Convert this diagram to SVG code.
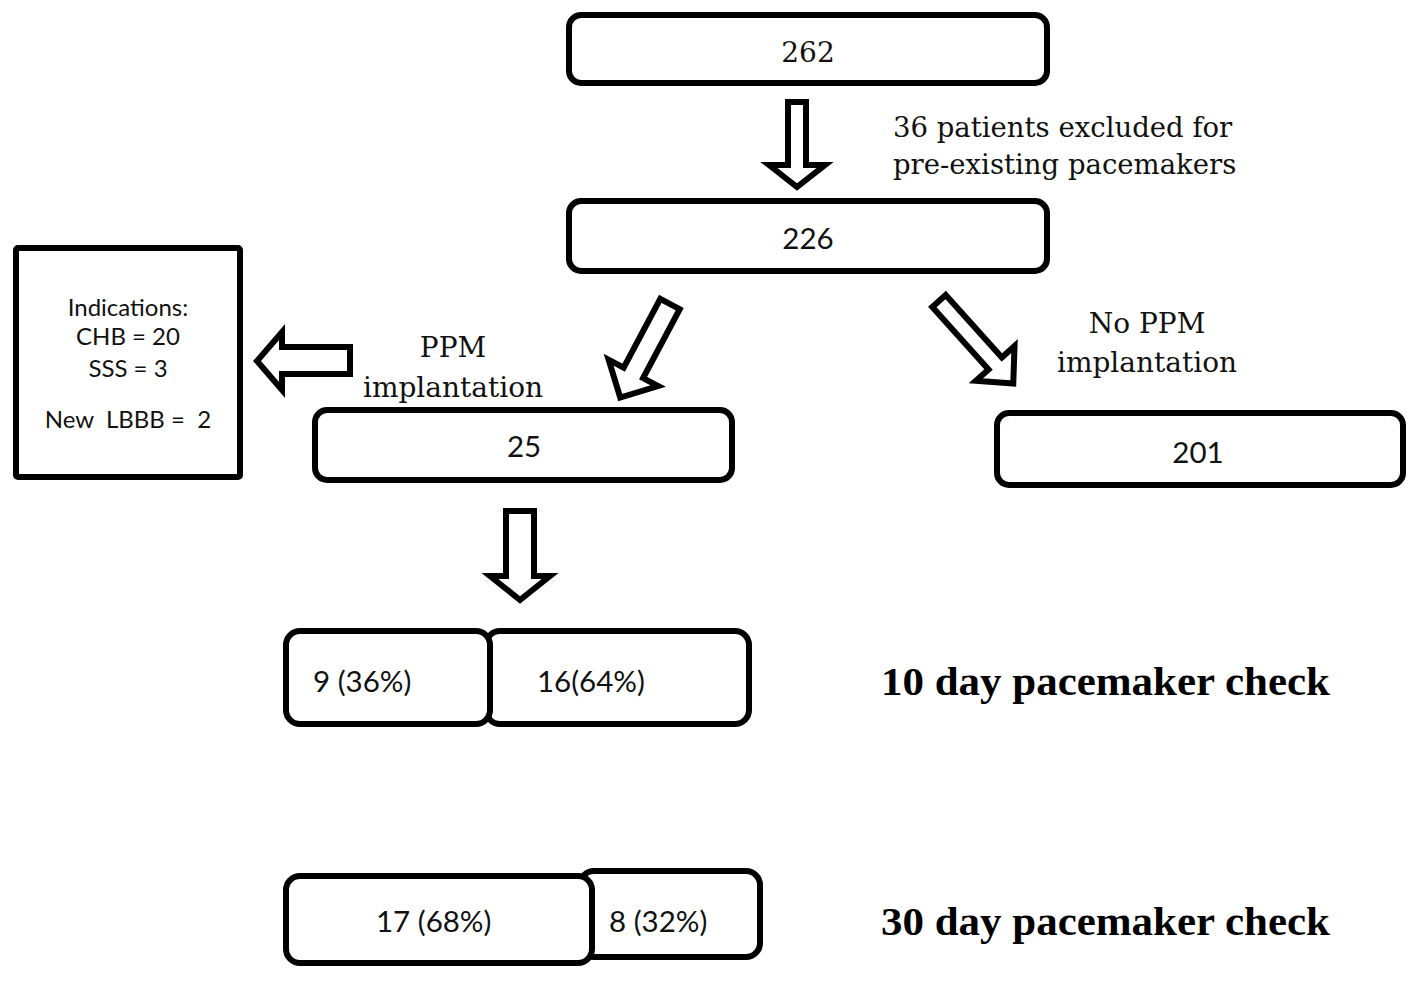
<svg xmlns="http://www.w3.org/2000/svg" width="1417" height="982" viewBox="0 0 1417 982">
<style>
.box{fill:#fff;stroke:#000;stroke-width:6}
.arr{fill:#fff;stroke:#000;stroke-width:6;stroke-linejoin:miter}
.serif{font-family:"DejaVu Serif","Liberation Serif",serif;fill:#111}
.sans{font-family:Lato,"Liberation Sans",sans-serif;fill:#111}
.bold{font-family:"Liberation Serif","DejaVu Serif",serif;font-weight:bold;fill:#000;font-size:40px}
</style>
<rect width="1417" height="982" fill="#fff"/>
<g id="connectors">
<path class="arr" d="M788,102 H806 V165 H825 L797,187 L769,165 H788 Z"/>
<path class="arr" d="M350,347 H282 V332 L257,361 L282,390 V374 H350 Z"/>
<path class="arr" transform="translate(670,304) rotate(28)" d="M-11,0 H11 V78 H28 L0,106 L-28,78 H-11 Z"/>
<path class="arr" transform="translate(939,301) rotate(-42)" d="M-9,0 H9 V84 H26 L0,111 L-26,84 H-9 Z"/>
<path class="arr" d="M506,511 H534 V576 H550 L520,600 L490,576 H506 Z"/>
</g>
<g id="n262">
<rect class="box" x="569" y="15" width="478" height="68" rx="12"/>
<text class="serif" x="808" y="62" font-size="28" text-anchor="middle">262</text>
</g>
<g id="excluded-label">
<text class="serif" font-size="27.5"><tspan x="893" y="137">36 patients excluded for</tspan><tspan x="893" y="174">pre-existing pacemakers</tspan></text>
</g>
<g id="n226">
<rect class="box" x="569" y="201" width="478" height="70" rx="12"/>
<text class="sans" x="808" y="249" font-size="29.5" text-anchor="middle">226</text>
</g>
<g id="indications">
<rect class="box" x="16" y="248" width="224" height="229" rx="2"/>
<text class="sans" font-size="24" text-anchor="middle" xml:space="preserve" style="white-space:pre"><tspan x="128" y="316">Indications:</tspan><tspan x="128" y="345">CHB = 20</tspan><tspan x="128" y="377">SSS = 3</tspan><tspan x="128" y="428">New  LBBB =  2</tspan></text>
</g>
<g id="ppm-label">
<text class="serif" font-size="28" text-anchor="middle"><tspan x="453" y="357">PPM</tspan><tspan x="453" y="397">implantation</tspan></text>
</g>
<g id="n25">
<rect class="box" x="315" y="410" width="417" height="70" rx="12"/>
<text class="sans" x="524" y="457" font-size="29.5" text-anchor="middle">25</text>
</g>
<g id="noppm-label">
<text class="serif" font-size="28" text-anchor="middle"><tspan x="1147" y="333">No PPM</tspan><tspan x="1147" y="372">implantation</tspan></text>
</g>
<g id="n201">
<rect class="box" x="997" y="413" width="406" height="72" rx="12"/>
<text class="sans" x="1198" y="463" font-size="29.5" text-anchor="middle">201</text>
</g>
<g id="day10">
<rect class="box" x="486" y="631" width="263" height="93" rx="14"/>
<rect class="box" x="286" y="631" width="204" height="93" rx="14"/>
<text class="sans" x="313" y="692" font-size="29.5">9 (36%)</text>
<text class="sans" x="537" y="692" font-size="29.5">16(64%)</text>
<text class="bold" x="881" y="695" textLength="449" lengthAdjust="spacingAndGlyphs">10 day pacemaker check</text>
</g>
<g id="day30">
<rect class="box" x="580" y="871" width="180" height="86" rx="14"/>
<rect class="box" x="286" y="876" width="306" height="87" rx="14"/>
<text class="sans" x="376" y="932" font-size="29.5">17 (68%)</text>
<text class="sans" x="609" y="932" font-size="29.5">8 (32%)</text>
<text class="bold" x="881" y="935" textLength="449" lengthAdjust="spacingAndGlyphs">30 day pacemaker check</text>
</g>
</svg>
